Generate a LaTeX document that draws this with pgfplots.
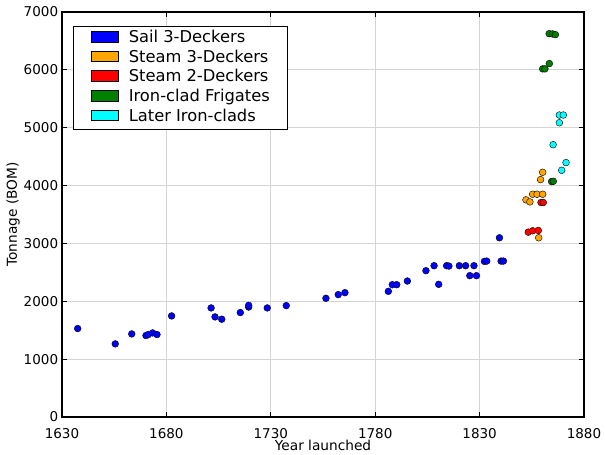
\documentclass[border=0pt]{standalone}
\usepackage{pgfplots}
\pgfplotsset{compat=1.18}
\usepackage{fontspec}
\setmainfont{DejaVu Sans}
\definecolor{cblue}{RGB}{0,0,255}
\definecolor{corange}{RGB}{255,165,0}
\definecolor{cred}{RGB}{255,0,0}
\definecolor{cgreen}{RGB}{0,128,0}
\definecolor{ccyan}{RGB}{0,255,255}
\begin{document}
\begin{tikzpicture}
\useasboundingbox (-62bp,-38bp) rectangle (543bp,417bp);
\begin{axis}[
  at={(0,0)}, anchor=south west,
  scale only axis, width=522bp, height=405bp,
  xmin=1630, xmax=1880, ymin=0, ymax=7000,
  xtick={1630,1680,1730,1780,1830,1880},
  ytick={0,1000,2000,3000,4000,5000,6000,7000},
  scaled ticks=false,
  /pgf/number format/assume math mode=true,
  /pgf/number format/set thousands separator={},
  tick label style={font=\fontsize{13.5bp}{15bp}\selectfont},
  xticklabel style={anchor=north, inner sep=0pt, yshift=-11bp},
  yticklabel style={anchor=east, inner sep=0pt, xshift=-3.7bp},
  tick align=inside, tick pos=both,
  major tick length=5bp,
  tick style={black, line width=0.8bp},
  axis line style={black, line width=1.2bp},
  grid=major,
  grid style={line width=1bp, color=black!17},
  every axis x label/.style={at={(axis description cs:0.5,-0.0815)}, anchor=base, inner sep=0pt, font=\fontsize{13.7bp}{15bp}\selectfont},
  every axis y label/.style={at={(axis description cs:-0.0805,0.5)}, rotate=90, anchor=south, inner sep=0pt, font=\fontsize{13.7bp}{15bp}\selectfont},
  xlabel={Year launched},
  ylabel={Tonnage (BOM)},
  legend style={at={(axis description cs:0.0205,0.9662)}, anchor=north west,
    draw=black, line width=0.8bp, fill=white,
    inner xsep=18bp, inner ysep=2.5bp, row sep=0bp,
    font=\fontsize{16.3bp}{19bp}\selectfont,
    nodes={inner xsep=0pt, inner ysep=0pt, text height=14bp, text depth=5.7bp, anchor=west},
    /tikz/every odd column/.append style={column sep=10bp}},
  legend cell align=left,
  every axis plot/.append style={only marks, mark=*, mark size=3.4bp},
]
\addplot[mark options={draw=black, line width=0.4bp, fill=cblue},
  legend image code/.code={\draw[fill=cblue,draw=black,line width=0.7bp] (0bp,-3.6bp) rectangle (27bp,7bp);}]
coordinates {
(1637.5,1529) (1655.5,1264) (1663.4,1436) (1670.2,1408) (1671.3,1425)
(1673.4,1453) (1675.5,1425) (1682.5,1747) (1701.4,1885) (1703.3,1730)
(1706.5,1690) (1715.4,1805) (1719.4,1900) (1719.4,1930) (1728.3,1885)
(1737.4,1925) (1756.4,2052) (1762.3,2115) (1765.5,2149) (1786.3,2172)
(1788.2,2287) (1790.3,2287) (1795.4,2350) (1804.3,2529) (1808.2,2615)
(1810.4,2293) (1814.2,2615) (1815.3,2609) (1820.3,2615) (1823.3,2615)
(1827.3,2615) (1825.3,2443) (1828.5,2443) (1832.3,2690) (1833.4,2695)
(1839.5,3098) (1840.3,2695) (1841.4,2695)
};
\addlegendentry{Sail 3-Deckers}
\addplot[mark options={draw=black, line width=0.4bp, fill=corange},
  legend image code/.code={\draw[fill=corange,draw=black,line width=0.7bp] (0bp,-3.6bp) rectangle (27bp,7bp);}]
coordinates {
(1852.2,3753) (1854.1,3718) (1855.4,3850) (1857.5,3850) (1860.2,3850)
(1858.3,3098) (1859.2,4103) (1860.2,4229)
};
\addlegendentry{Steam 3-Deckers}
\addplot[mark options={draw=black, line width=0.4bp, fill=cred},
  legend image code/.code={\draw[fill=cred,draw=black,line width=0.7bp] (0bp,-3.6bp) rectangle (27bp,7bp);}]
coordinates {
(1853.3,3195) (1855.4,3219) (1858.1,3224) (1859.4,3707) (1860.5,3707)
};
\addlegendentry{Steam 2-Deckers}
\addplot[mark options={draw=black, line width=0.4bp, fill=cgreen},
  legend image code/.code={\draw[fill=cgreen,draw=black,line width=0.7bp] (0bp,-3.6bp) rectangle (27bp,7bp);}]
coordinates {
(1863.3,6626) (1864.9,6621) (1866.3,6609) (1863.4,6109) (1860.2,6017)
(1861.3,6017) (1864.5,4069) (1865.3,4074)
};
\addlegendentry{Iron-clad Frigates}
\addplot[mark options={draw=black, line width=0.4bp, fill=ccyan},
  legend image code/.code={\draw[fill=ccyan,draw=black,line width=0.7bp] (0bp,-3.6bp) rectangle (27bp,7bp);}]
coordinates {
(1868.2,5219) (1870.1,5219) (1868.2,5086) (1865.2,4707) (1871.4,4397)
(1869.3,4264)
};
\addlegendentry{Later Iron-clads}
\end{axis}
\end{tikzpicture}
\end{document}
